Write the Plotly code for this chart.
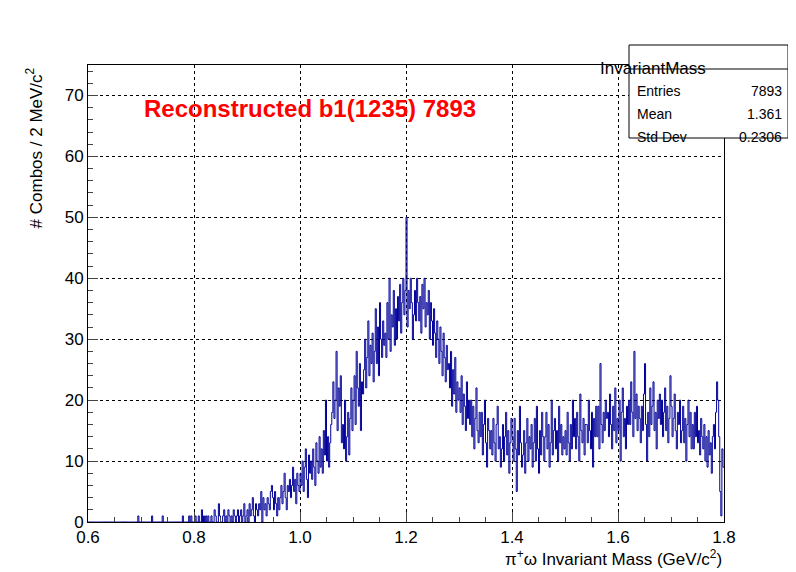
import numpy as np
import plotly.graph_objects as go

x_lo, x_hi, n_bins = 0.6, 1.8, 600
counts = [
0,0,0,0,0,0,0,0,0,0, 0,0,0,0,0,0,0,0,0,0, 0,0,0,0,0,0,0,0,0,0, 0,0,0,0,0,0,0,0,0,0,
0,0,0,0,0,0,0,1,0,0, 0,0,0,0,0,0,0,0,0,0, 1,0,0,0,0,0,0,0,0,0, 1,0,0,0,0,0,0,0,0,0,
0,0,0,0,0,0,0,0,0,1, 0,0,0,0,0,1,0,1,0,0, 0,1,0,0,1,0,0,2,0,1, 0,1,0,1,0,0,1,0,0,2,
1,0,0,3,1,0,0,1,2,0, 1,0,2,1,0,1,0,2,1,0, 1,2,0,1,2,0,1,3,0,1, 2,0,3,1,2,4,1,0,3,2,
1,3,2,5,0,4,2,3,1,4, 3,2,5,6,4,2,5,3,1,4, 2,4,6,3,5,8,4,2,6,5, 7,4,6,9,5,7,3,8,6,5,
8,6,10,5,9,12,7,4,11,8, 10,7,12,9,6,13,10,8,14,9, 12,8,15,11,20,10,14,9,13,16,
18,23,17,20,28,15,22,19,24,13, 16,12,20,10,14,18,11,17,22,15, 20,24,16,28,22,19,26,15,23,21,
25,30,22,27,33,24,29,26,31,23, 28,35,26,32,24,36,30,27,33,29, 31,27,36,30,40,28,34,32,38,29,
35,30,37,33,39,31,36,40,34,38, 50,32,38,35,40,36,30,34,38,33, 40,36,33,37,31,39,35,40,32,36,
34,38,30,36,33,29,35,31,27,33, 30,26,32,28,24,31,27,23,29,25, 26,22,28,19,25,21,27,18,23,20,
22,18,24,16,21,19,15,23,17,20, 16,20,14,19,12,17,22,15,13,18, 14,18,11,16,20,13,9,17,15,12,
15,11,17,13,10,16,19,12,14,9, 12,16,10,14,18,11,15,8,13,17, 14,10,17,12,5,15,11,19,13,9,
11,15,8,13,17,10,14,12,16,9, 13,17,10,19,12,8,15,11,18,14, 10,14,18,12,16,9,13,20,11,15,
17,12,15,10,19,13,16,11,14,12, 15,11,18,13,10,16,12,20,14,17, 12,18,14,10,21,15,13,17,11,16,
16,13,20,15,12,18,9,17,14,19, 14,19,12,26,16,13,18,15,20,17, 18,14,21,16,12,19,15,22,13,17,
15,20,10,18,22,14,17,12,19,16, 20,16,23,18,14,28,17,21,15,19, 17,13,19,15,21,26,16,10,18,14,
22,16,19,23,15,18,12,20,17,21, 16,20,14,18,22,15,19,13,17,24, 19,14,17,21,15,12,18,16,20,13,
15,19,13,17,10,16,20,14,18,12, 16,12,18,14,19,13,15,11,17,14, 12,16,10,14,9,15,11,13,8,14,
16,12,18,23,20,14,5,1,12,9,
]
stat_labels = ["Entries", "Mean", "Std Dev"]
stat_values = ["7893", "1.361", "0.2306"]

edges = np.linspace(x_lo, x_hi, n_bins + 1)
xs = list(edges)
ys = list(counts) + [counts[-1]]

fig = go.Figure(go.Scatter(x=xs, y=ys, mode="lines", line=dict(shape="hv", color="#000099", width=1), hoverinfo="skip"))

font = "Liberation Sans, Arial, sans-serif"
ax = dict(showline=True, linecolor="black", mirror=True, ticks="inside", ticklen=10, automargin=False,
          showgrid=True, gridcolor="black", griddash="dot", gridwidth=1, zeroline=False,
          tickfont=dict(size=17, color="black", family=font))
fig.update_layout(
    width=796, height=572, margin=dict(l=80, r=80, t=57, b=58, autoexpand=False),
    paper_bgcolor="white", plot_bgcolor="white", showlegend=False,
    xaxis=dict(range=[x_lo, x_hi], dtick=0.2, tickformat=".1f",
               minor=dict(ticks="inside", ticklen=5, dtick=0.05, showgrid=False), **ax),
    yaxis=dict(range=[0, 75], dtick=10,
               minor=dict(ticks="inside", ticklen=5, dtick=2, showgrid=False), **ax),
)
fig.add_annotation(text="Reconstructed b1(1235) 7893", xref="paper", yref="paper", x=0.085, y=0.905,
                   xanchor="left", yanchor="middle", showarrow=False,
                   font=dict(size=24, color="#ff0000", family=font, weight="bold"))
fig.add_annotation(text="π<sup>+</sup>ω Invariant Mass (GeV/c<sup>2</sup>)", xref="paper", yref="paper",
                   x=1, y=-0.05, xanchor="right", yanchor="top", showarrow=False,
                   font=dict(size=17, color="black", family=font))
fig.add_annotation(text="# Combos / 2 MeV/c<sup>2</sup>", xref="paper", yref="paper", x=-0.085, y=1,
                   xanchor="center", yanchor="top", textangle=-90, showarrow=False,
                   font=dict(size=17, color="black", family=font))
def px(x): return (x - 80) / 636
def py(y): return (514 - y) / 457
fig.add_shape(type="rect", xref="paper", yref="paper", x0=px(621), x1=px(780), y0=py(130), y1=py(37),
              line=dict(color="black", width=1), fillcolor="white")
fig.add_shape(type="line", xref="paper", yref="paper", x0=px(621), x1=px(780), y0=py(61), y1=py(61),
              line=dict(color="black", width=1))
fig.add_annotation(text="InvariantMass", xref="paper", yref="paper", x=px(700), y=py(49), showarrow=False,
                   font=dict(size=17, color="black", family=font))
for i, (l, v) in enumerate(zip(stat_labels, stat_values)):
    yy = py(73 + i * 23)
    fig.add_annotation(text=l, xref="paper", yref="paper", x=px(627), y=yy, xanchor="left", showarrow=False,
                       font=dict(size=14, color="black", family=font))
    fig.add_annotation(text=v, xref="paper", yref="paper", x=px(776), y=yy, xanchor="right", showarrow=False,
                       font=dict(size=14, color="black", family=font))
fig.write_html("out.html")
